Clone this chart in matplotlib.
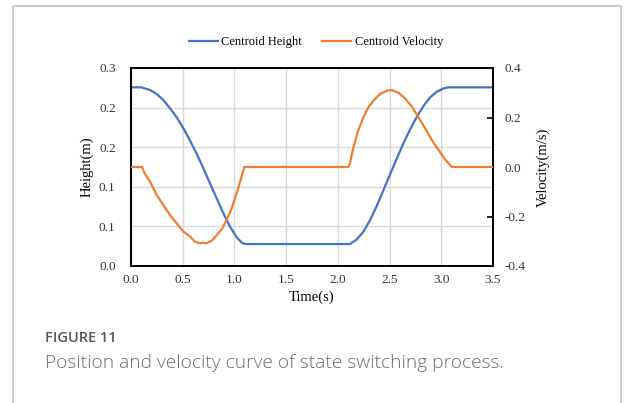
import matplotlib
matplotlib.use("Agg")
import matplotlib.pyplot as plt
from matplotlib.lines import Line2D
from matplotlib.ticker import FormatStrFormatter

# centroid height (m)
t_height = [0.0, 0.10, 0.184, 0.248, 0.313, 0.377, 0.442, 0.506, 0.571, 0.635, 0.70, 0.764,
            0.829, 0.893, 0.958, 1.022, 1.071, 1.103, 2.118, 2.183, 2.247, 2.312, 2.376,
            2.441, 2.505, 2.57, 2.634, 2.699, 2.763, 2.828, 2.892, 2.957, 3.021, 3.069, 3.5]
height = [0.2707, 0.2707, 0.2667, 0.2606, 0.2515, 0.239, 0.2253, 0.2086, 0.190, 0.170, 0.148,
          0.125, 0.1025, 0.080, 0.0596, 0.0435, 0.0354, 0.0333, 0.0333, 0.0404, 0.052,
          0.0697, 0.0909, 0.115, 0.139, 0.163, 0.186, 0.207, 0.226, 0.2424, 0.2556, 0.264,
          0.269, 0.2707, 0.2707]

# centroid velocity (m/s)
t_vel = [0.0, 0.107, 0.132, 0.184, 0.248, 0.313, 0.377, 0.442, 0.506, 0.571, 0.619, 0.668,
         0.70, 0.732, 0.78, 0.829, 0.877, 0.925, 0.974, 1.022, 1.064, 1.096, 2.101, 2.117,
         2.133, 2.165, 2.198, 2.247, 2.295, 2.344, 2.408, 2.473, 2.521, 2.586, 2.65, 2.715,
         2.779, 2.844, 2.908, 2.973, 3.037, 3.102, 3.5]
velocity = [0.0, 0.0, -0.026, -0.059, -0.113, -0.154, -0.194, -0.228, -0.261, -0.281, -0.302,
            -0.308, -0.306, -0.308, -0.298, -0.275, -0.252, -0.214, -0.167, -0.106, -0.046,
            0.0, 0.0, 0.015, 0.048, 0.102, 0.149, 0.201, 0.241, 0.268, 0.295, 0.308, 0.311,
            0.300, 0.277, 0.244, 0.201, 0.156, 0.109, 0.069, 0.031, 0.0, 0.0]

x_ticks = [0.0, 0.5, 1.0, 1.5, 2.0, 2.5, 3.0, 3.5]
h_ticks = [0.0, 0.06, 0.12, 0.18, 0.24, 0.30]
v_ticks = [-0.4, -0.2, 0.0, 0.2, 0.4]

blue = "#4472C4"
orange = "#ED7D31"
serif = "Liberation Serif"

fig = plt.figure(figsize=(6.25, 4.03), dpi=100)
ax = fig.add_axes([131 / 625, 1 - 266 / 403, (493 - 131) / 625, (266 - 68) / 403])
ax2 = ax.twinx()

ax.plot(t_height, height, color=blue, lw=1.6, zorder=3)
ax2.plot(t_vel, velocity, color=orange, lw=1.6, zorder=3)

ax.set_xlim(0, 3.5)
ax.set_ylim(0, 0.3)
ax2.set_ylim(-0.4, 0.4)
ax.set_xticks(x_ticks)
ax.set_yticks(h_ticks)
ax2.set_yticks(v_ticks)
ax.xaxis.set_major_formatter(FormatStrFormatter("%.1f"))
ax.yaxis.set_major_formatter(FormatStrFormatter("%.1f"))
ax2.yaxis.set_major_formatter(FormatStrFormatter("%.1f"))

ax.grid(True, color="#d9d9d9", lw=1.0)
ax.set_axisbelow(True)
ax.tick_params(axis="both", length=0, labelsize=9.5)
ax.tick_params(axis="y", pad=11)
ax.tick_params(axis="x", pad=6)
ax2.tick_params(axis="y", direction="in", length=4, width=1.2, pad=8, labelsize=9.5)
for lab in ax.get_xticklabels() + ax.get_yticklabels() + ax2.get_yticklabels():
    lab.set_fontfamily(serif)
    lab.set_color("#333333")

for a in (ax, ax2):
    for s in a.spines.values():
        s.set_linewidth(1.3)
        s.set_color("black")

ax.set_xlabel("Time(s)", family=serif, fontsize=10.5, labelpad=3)
ax.set_ylabel("Height(m)", family=serif, fontsize=10.5, labelpad=4)
ax2.set_ylabel("Velocity(m/s)", family=serif, fontsize=10.5, labelpad=8)

handles = [Line2D([], [], color=blue, lw=1.6), Line2D([], [], color=orange, lw=1.6)]
fig.legend(handles, ["Centroid Height", "Centroid Velocity"], loc="center",
           bbox_to_anchor=(316 / 625, 1 - 42 / 403), ncol=2, frameon=False,
           prop={"family": serif, "size": 9}, handlelength=2.3, handletextpad=0.3,
           columnspacing=1.6)

# light gray frame around the figure panel (open at the bottom)
fx = [13 / 625, 13 / 625, 621 / 625, 621 / 625]
fy = [0.0, 1 - 6 / 403, 1 - 6 / 403, 0.0]
fig.add_artist(Line2D(fx, fy, transform=fig.transFigure, color="#cccccc", lw=1.5))

fig.text(45 / 625, 1 - 338 / 403, "FIGURE 11", family="Open Sans", fontsize=10.5,
         fontweight="semibold", color="#555555", va="center")
fig.text(45 / 625, 1 - 363 / 403, "Position and velocity curve of state switching process.",
         family="Open Sans", fontsize=13.8, fontweight="light", color="#6b6b6b", va="center")

fig.savefig("out.png", dpi=100)
